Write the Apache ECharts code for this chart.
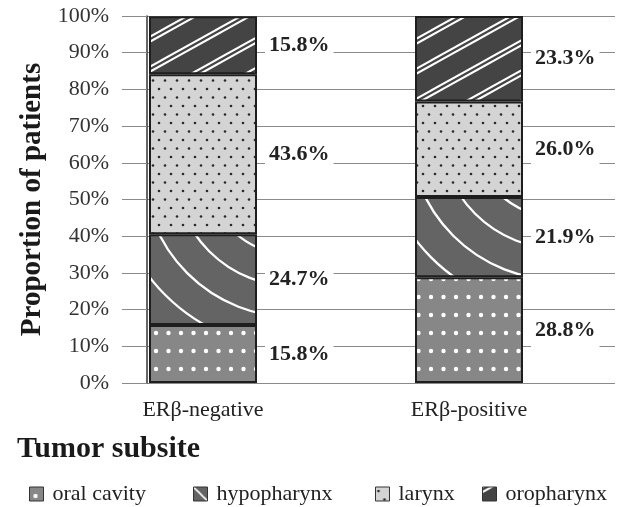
<!DOCTYPE html>
<html>
<head>
<meta charset="utf-8">
<script src="https://cdn.jsdelivr.net/npm/echarts@6/dist/echarts.min.js"></script>
<style>
  html, body { margin: 0; padding: 0; background: #fff; }
  #chart { width: 620px; height: 507px; }
</style>
</head>
<body>
<div id="chart"></div>
<script>
// data
const categories = ['ERβ-negative', 'ERβ-positive'];
const subsites = ['oral cavity', 'hypopharynx', 'larynx', 'oropharynx'];
const oralCavity = [15.8, 28.8];
const hypopharynx = [24.7, 21.9];
const larynx = [43.6, 26.0];
const oropharynx = [15.8, 23.3];
const yTickLabels = ['0%', '10%', '20%', '30%', '40%', '50%', '60%', '70%', '80%', '90%', '100%'];

const FONT = 'Liberation Serif';
const BAR_W = 108;

// small canvas tiles used as pattern fills
function tile(w, h, bg, draw) {
  const c = document.createElement('canvas');
  c.width = w;
  c.height = h;
  const ctx = c.getContext('2d');
  ctx.fillStyle = bg;
  ctx.fillRect(0, 0, w, h);
  draw(ctx, w, h);
  return { image: c, repeat: 'repeat' };
}
function dot(ctx, x, y, r, color) {
  ctx.fillStyle = color;
  ctx.beginPath();
  ctx.arc(x, y, r, 0, Math.PI * 2);
  ctx.fill();
}

const oralFill = tile(25, 18, '#878787', ctx => {
  dot(ctx, 6, 9, 2.2, '#fff');
  dot(ctx, 18.5, 9, 2.2, '#fff');
});
const larynxFill = tile(12, 17, '#d4d4d4', ctx => {
  dot(ctx, 3, 4, 1.3, '#2a2a2a');
  dot(ctx, 9, 12.5, 1.3, '#2a2a2a');
});
const oroFill = tile(54, 30, '#444', (ctx, w, h) => {
  ctx.strokeStyle = '#fff';
  ctx.lineWidth = 2;
  [-1, 0, 1].forEach(k => {
    [0, 5].forEach(off => {
      ctx.beginPath();
      ctx.moveTo(-w, 2 * h + k * h + off);
      ctx.lineTo(2 * w, -h + k * h + off);
      ctx.stroke();
    });
  });
});
// legend swatch for hypopharynx
const hypoIcon = tile(14, 14, '#646464', ctx => {
  ctx.strokeStyle = '#fff';
  ctx.lineWidth = 1.6;
  ctx.beginPath();
  ctx.moveTo(0, 0);
  ctx.lineTo(14, 14);
  ctx.stroke();
});
// concentric arcs centred up-right of a bar segment
function arcFill(cx, cy) {
  return tile(620, 507, '#646464', ctx => {
    ctx.strokeStyle = '#fff';
    ctx.lineWidth = 2.3;
    [58, 89, 120, 151, 182, 213].forEach(r => {
      ctx.beginPath();
      ctx.arc(cx, cy, r, 0, Math.PI * 2);
      ctx.stroke();
    });
  });
}

const barLabel = {
  show: true,
  position: 'right',
  distance: 8,
  fontFamily: FONT,
  fontSize: 22,
  fontWeight: 'bold',
  color: '#222',
  backgroundColor: '#fff',
  padding: [7, 4],
  formatter: p => p.value.toFixed(1) + '%'
};

function barSeries(name, values, color) {
  return {
    name: name,
    type: 'bar',
    stack: 'total',
    xAxisIndex: 1,
    yAxisIndex: 1,
    barWidth: BAR_W,
    data: values,
    itemStyle: { color: color, borderColor: '#1e1e1e', borderWidth: 2 },
    label: barLabel
  };
}

const legendLeft = [24, 188, 370, 477];

const option = {
  animation: false,
  textStyle: { fontFamily: FONT },
  title: {
    text: 'Tumor subsite',
    left: 12,
    top: 429,
    textStyle: { fontFamily: FONT, fontSize: 30, fontWeight: 'bold', color: '#1a1a1a' }
  },
  legend: subsites.map((s, i) => ({
    data: [s],
    left: legendLeft[i],
    top: 478,
    icon: 'rect',
    itemWidth: 14,
    itemHeight: 14,
    itemStyle: { borderWidth: 1, borderColor: '#333' },
    textStyle: { fontFamily: FONT, fontSize: 22, color: '#222', padding: [0, 0, 0, 4] }
  })),
  grid: [
    // axis + gridlines
    { left: 147, right: 5, top: 16, bottom: 124 },
    // bars
    { left: 70, right: 18, top: 16, bottom: 124 }
  ],
  xAxis: [
    { gridIndex: 0, type: 'category', data: categories, show: false },
    {
      gridIndex: 1,
      type: 'category',
      data: categories,
      axisLine: { show: false },
      axisTick: { show: false },
      axisLabel: { fontFamily: FONT, fontSize: 22, color: '#222', margin: 16 }
    }
  ],
  yAxis: [
    {
      gridIndex: 0,
      type: 'value',
      min: 0,
      max: 100,
      interval: 10,
      name: 'Proportion of patients',
      nameLocation: 'middle',
      nameGap: 100,
      nameTextStyle: { fontFamily: FONT, fontSize: 29, fontWeight: 'bold', color: '#1a1a1a' },
      axisLine: { show: true, lineStyle: { color: '#333', width: 1.5 } },
      axisTick: { show: true, length: 25, lineStyle: { color: '#8a8a8a' } },
      axisLabel: {
        fontFamily: FONT,
        fontSize: 22,
        color: '#333',
        margin: 38,
        formatter: v => yTickLabels[Math.round(v / 10)]
      },
      splitLine: { show: true, lineStyle: { color: '#8a8a8a', width: 1 } }
    },
    { gridIndex: 1, type: 'value', min: 0, max: 100, show: false }
  ],
  series: [
    barSeries(subsites[0], oralCavity, oralFill),
    barSeries(subsites[1], hypopharynx, hypoIcon),
    barSeries(subsites[2], larynx, larynxFill),
    barSeries(subsites[3], oropharynx, oroFill)
  ]
};

const chart = echarts.init(document.getElementById('chart'));
chart.setOption(option);

// hypopharynx arcs: place the centre relative to each segment's top-right corner
const hypoData = categories.map((c, i) => {
  const top = chart.convertToPixel({ xAxisIndex: 1, yAxisIndex: 1 }, [i, oralCavity[i] + hypopharynx[i]]);
  return {
    value: hypopharynx[i],
    itemStyle: { color: arcFill(top[0] + BAR_W / 2 + 37, top[1] - 68) }
  };
});
chart.setOption({ series: [{}, { data: hypoData }] });
</script>
</body>
</html>
